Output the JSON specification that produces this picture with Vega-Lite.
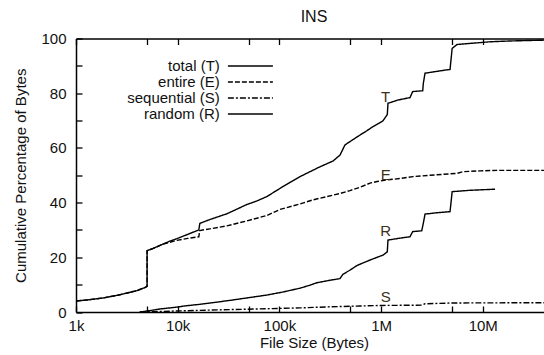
{
  "$schema": "https://vega.github.io/schema/vega-lite/v6.json",
  "width": 468,
  "height": 273.5,
  "autosize": "none",
  "padding": {"left": 76, "top": 38.5, "right": 0, "bottom": 43},
  "background": "white",
  "config": {
    "view": {"stroke": null},
    "font": "Liberation Sans",
    "axis": {
      "grid": false,
      "ticks": true,
      "domainColor": "black",
      "domainWidth": 1.5,
      "tickColor": "black",
      "tickWidth": 1.3,
      "labelFont": "Liberation Sans",
      "labelFontSize": 15,
      "labelColor": "#111111",
      "titleFont": "Liberation Sans",
      "titleFontSize": 15,
      "titleFontWeight": "normal",
      "titleColor": "#111111"
    }
  },
  "title": {
    "text": "INS",
    "fontSize": 16,
    "fontWeight": "normal",
    "font": "Liberation Sans",
    "color": "#111111",
    "offset": 7,
    "dx": 4
  },
  "datasets": {
    "curves": [
      {"series": "total (T)", "size": 1000, "pct": 4.0},
      {"series": "total (T)", "size": 1364, "pct": 4.5},
      {"series": "total (T)", "size": 1831, "pct": 5.1},
      {"series": "total (T)", "size": 2692, "pct": 6.3},
      {"series": "total (T)", "size": 3958, "pct": 7.8},
      {"series": "total (T)", "size": 4746, "pct": 8.9},
      {"series": "total (T)", "size": 5000, "pct": 9.4},
      {"series": "total (T)", "size": 5000, "pct": 22.4},
      {"series": "total (T)", "size": 5687, "pct": 23.2},
      {"series": "total (T)", "size": 7135, "pct": 24.8},
      {"series": "total (T)", "size": 8360, "pct": 25.9},
      {"series": "total (T)", "size": 9797, "pct": 26.8},
      {"series": "total (T)", "size": 12570, "pct": 28.4},
      {"series": "total (T)", "size": 16130, "pct": 30.0},
      {"series": "total (T)", "size": 16500, "pct": 32.4},
      {"series": "total (T)", "size": 20700, "pct": 33.8},
      {"series": "total (T)", "size": 24810, "pct": 34.8},
      {"series": "total (T)", "size": 30430, "pct": 35.9},
      {"series": "total (T)", "size": 38160, "pct": 37.6},
      {"series": "total (T)", "size": 47860, "pct": 39.3},
      {"series": "total (T)", "size": 60050, "pct": 40.6},
      {"series": "total (T)", "size": 75340, "pct": 42.2},
      {"series": "total (T)", "size": 101400, "pct": 45.2},
      {"series": "total (T)", "size": 127200, "pct": 47.4},
      {"series": "total (T)", "size": 159500, "pct": 49.5},
      {"series": "total (T)", "size": 200100, "pct": 51.3},
      {"series": "total (T)", "size": 250800, "pct": 53.1},
      {"series": "total (T)", "size": 336800, "pct": 55.2},
      {"series": "total (T)", "size": 394700, "pct": 57.4},
      {"series": "total (T)", "size": 441900, "pct": 61.1},
      {"series": "total (T)", "size": 517800, "pct": 62.8},
      {"series": "total (T)", "size": 620500, "pct": 64.7},
      {"series": "total (T)", "size": 727000, "pct": 66.3},
      {"series": "total (T)", "size": 832800, "pct": 67.8},
      {"series": "total (T)", "size": 1044000, "pct": 69.9},
      {"series": "total (T)", "size": 1151000, "pct": 72.2},
      {"series": "total (T)", "size": 1169000, "pct": 76.3},
      {"series": "total (T)", "size": 1467000, "pct": 77.5},
      {"series": "total (T)", "size": 1925000, "pct": 78.4},
      {"series": "total (T)", "size": 2046000, "pct": 80.6},
      {"series": "total (T)", "size": 2567000, "pct": 80.9},
      {"series": "total (T)", "size": 2602000, "pct": 83.6},
      {"series": "total (T)", "size": 2704000, "pct": 87.3},
      {"series": "total (T)", "size": 3550000, "pct": 88.0},
      {"series": "total (T)", "size": 4766000, "pct": 88.7},
      {"series": "total (T)", "size": 5000000, "pct": 96.4},
      {"series": "total (T)", "size": 5585000, "pct": 97.8},
      {"series": "total (T)", "size": 7499000, "pct": 98.2},
      {"series": "total (T)", "size": 11800000, "pct": 98.8},
      {"series": "total (T)", "size": 18570000, "pct": 99.1},
      {"series": "total (T)", "size": 40000000, "pct": 99.4},

      {"series": "entire (E)", "size": 1000, "pct": 4.0},
      {"series": "entire (E)", "size": 1364, "pct": 4.5},
      {"series": "entire (E)", "size": 1831, "pct": 5.1},
      {"series": "entire (E)", "size": 2692, "pct": 6.3},
      {"series": "entire (E)", "size": 3958, "pct": 7.8},
      {"series": "entire (E)", "size": 4746, "pct": 8.9},
      {"series": "entire (E)", "size": 5000, "pct": 9.4},
      {"series": "entire (E)", "size": 5000, "pct": 22.4},
      {"series": "entire (E)", "size": 5687, "pct": 23.2},
      {"series": "entire (E)", "size": 7135, "pct": 24.8},
      {"series": "entire (E)", "size": 8360, "pct": 25.5},
      {"series": "entire (E)", "size": 9797, "pct": 26.2},
      {"series": "entire (E)", "size": 12570, "pct": 26.9},
      {"series": "entire (E)", "size": 16130, "pct": 27.5},
      {"series": "entire (E)", "size": 16500, "pct": 29.8},
      {"series": "entire (E)", "size": 20700, "pct": 30.4},
      {"series": "entire (E)", "size": 30430, "pct": 31.5},
      {"series": "entire (E)", "size": 47860, "pct": 33.3},
      {"series": "entire (E)", "size": 75340, "pct": 35.3},
      {"series": "entire (E)", "size": 101400, "pct": 37.5},
      {"series": "entire (E)", "size": 159500, "pct": 39.5},
      {"series": "entire (E)", "size": 213700, "pct": 41.0},
      {"series": "entire (E)", "size": 293000, "pct": 42.2},
      {"series": "entire (E)", "size": 393900, "pct": 43.3},
      {"series": "entire (E)", "size": 494200, "pct": 44.4},
      {"series": "entire (E)", "size": 620500, "pct": 45.6},
      {"series": "entire (E)", "size": 777500, "pct": 47.1},
      {"series": "entire (E)", "size": 911100, "pct": 47.7},
      {"series": "entire (E)", "size": 1143000, "pct": 48.3},
      {"series": "entire (E)", "size": 1535000, "pct": 48.8},
      {"series": "entire (E)", "size": 2061000, "pct": 49.5},
      {"series": "entire (E)", "size": 3029000, "pct": 50.0},
      {"series": "entire (E)", "size": 5585000, "pct": 50.7},
      {"series": "entire (E)", "size": 6400000, "pct": 51.3},
      {"series": "entire (E)", "size": 9406000, "pct": 51.6},
      {"series": "entire (E)", "size": 13830000, "pct": 51.8},
      {"series": "entire (E)", "size": 40000000, "pct": 51.8},

      {"series": "sequential (S)", "size": 4236, "pct": 0.0},
      {"series": "sequential (S)", "size": 8360, "pct": 0.3},
      {"series": "sequential (S)", "size": 16500, "pct": 0.6},
      {"series": "sequential (S)", "size": 34860, "pct": 0.9},
      {"series": "sequential (S)", "size": 75340, "pct": 1.2},
      {"series": "sequential (S)", "size": 159200, "pct": 1.5},
      {"series": "sequential (S)", "size": 314100, "pct": 1.9},
      {"series": "sequential (S)", "size": 619900, "pct": 2.2},
      {"series": "sequential (S)", "size": 1044000, "pct": 2.4},
      {"series": "sequential (S)", "size": 2509000, "pct": 2.5},
      {"series": "sequential (S)", "size": 2704000, "pct": 3.0},
      {"series": "sequential (S)", "size": 5000000, "pct": 3.3},
      {"series": "sequential (S)", "size": 40000000, "pct": 3.4},

      {"series": "random (R)", "size": 4236, "pct": 0.0},
      {"series": "random (R)", "size": 5315, "pct": 0.5},
      {"series": "random (R)", "size": 6665, "pct": 1.1},
      {"series": "random (R)", "size": 9363, "pct": 1.7},
      {"series": "random (R)", "size": 12290, "pct": 2.3},
      {"series": "random (R)", "size": 16500, "pct": 2.8},
      {"series": "random (R)", "size": 23190, "pct": 3.5},
      {"series": "random (R)", "size": 34860, "pct": 4.4},
      {"series": "random (R)", "size": 51240, "pct": 5.3},
      {"series": "random (R)", "size": 75340, "pct": 6.2},
      {"series": "random (R)", "size": 108250, "pct": 7.3},
      {"series": "random (R)", "size": 159200, "pct": 8.7},
      {"series": "random (R)", "size": 199700, "pct": 9.8},
      {"series": "random (R)", "size": 233900, "pct": 10.7},
      {"series": "random (R)", "size": 314100, "pct": 11.6},
      {"series": "random (R)", "size": 393900, "pct": 12.2},
      {"series": "random (R)", "size": 421700, "pct": 13.8},
      {"series": "random (R)", "size": 494200, "pct": 15.3},
      {"series": "random (R)", "size": 579100, "pct": 17.0},
      {"series": "random (R)", "size": 777500, "pct": 19.0},
      {"series": "random (R)", "size": 1044000, "pct": 20.8},
      {"series": "random (R)", "size": 1151000, "pct": 22.0},
      {"series": "random (R)", "size": 1169000, "pct": 26.3},
      {"series": "random (R)", "size": 1535000, "pct": 27.0},
      {"series": "random (R)", "size": 1925000, "pct": 27.5},
      {"series": "random (R)", "size": 2046000, "pct": 29.4},
      {"series": "random (R)", "size": 2509000, "pct": 29.7},
      {"series": "random (R)", "size": 2602000, "pct": 32.4},
      {"series": "random (R)", "size": 2704000, "pct": 35.8},
      {"series": "random (R)", "size": 3550000, "pct": 36.3},
      {"series": "random (R)", "size": 4766000, "pct": 36.7},
      {"series": "random (R)", "size": 5000000, "pct": 44.0},
      {"series": "random (R)", "size": 7499000, "pct": 44.5},
      {"series": "random (R)", "size": 13210000, "pct": 44.9}
    ],
    "letters": [
      {"letter": "T", "size": 1110000, "pct": 78.6},
      {"letter": "E", "size": 1110000, "pct": 50.1},
      {"letter": "R", "size": 1110000, "pct": 29.6},
      {"letter": "S", "size": 1110000, "pct": 5.5}
    ]
  },
  "layer": [
    {
      "data": {"name": "curves"},
      "mark": {"type": "line", "strokeWidth": 1.4, "color": "black"},
      "encoding": {
        "x": {
          "field": "size",
          "type": "quantitative",
          "scale": {"type": "log", "domain": [1000, 40000000], "nice": false},
          "axis": {
            "orient": "top",
            "offset": -273.5,
            "values": [1000, 5000, 10000, 50000, 100000, 500000, 1000000, 5000000, 10000000],
            "labelExpr": "datum.value == 1000 ? '1k' : datum.value == 10000 ? '10k' : datum.value == 100000 ? '100k' : datum.value == 1000000 ? '1M' : datum.value == 10000000 ? '10M' : ''",
            "tickSize": 6,
            "labelPadding": -12,
            "labelBaseline": "top",
            "labelFlush": false,
            "labelOverlap": false,
            "title": "File Size (Bytes)",
            "titleX": 238,
            "titleY": 30.5,
            "titleAngle": 0,
            "titleBaseline": "middle",
            "titleAlign": "center"
          }
        },
        "y": {
          "field": "pct",
          "type": "quantitative",
          "scale": {"domain": [0, 100], "nice": false},
          "axis": {
            "orient": "right",
            "offset": -468,
            "values": [0, 10, 20, 30, 40, 50, 60, 70, 80, 90, 100],
            "labelExpr": "datum.value % 20 === 0 ? datum.label : ''",
            "tickSize": 6,
            "labelPadding": -16,
            "labelAlign": "right",
            "labelBaseline": "middle",
            "labelOverlap": false,
            "labelFlush": false,
            "title": "Cumulative Percentage of Bytes",
            "titleX": -56,
            "titleY": 136.75,
            "titleAngle": -90,
            "titleBaseline": "middle",
            "titleAlign": "center"
          }
        },
        "strokeDash": {
          "field": "series",
          "type": "nominal",
          "scale": {
            "domain": ["total (T)", "entire (E)", "sequential (S)", "random (R)"],
            "range": [[1, 0], [5, 2], [6, 2, 2, 2], [1, 0]]
          },
          "legend": {
            "orient": "none",
            "legendX": 166.9,
            "legendY": 20,
            "title": null,
            "padding": 0,
            "symbolType": "M-4,0H4",
            "symbolSize": 126.5,
            "symbolStrokeWidth": 1.4,
            "symbolStrokeColor": "black",
            "labelAlign": "right",
            "labelOffset": -38.1,
            "labelFont": "Liberation Sans",
            "labelFontSize": 15,
            "labelColor": "#111111",
            "labelLimit": 300,
            "rowPadding": -3
          }
        },
        "order": {"value": null}
      }
    },
    {
      "data": {"name": "letters"},
      "mark": {"type": "text", "fontSize": 15, "font": "Liberation Sans", "color": "#3d3016", "align": "center", "baseline": "middle"},
      "encoding": {
        "x": {
          "field": "size",
          "type": "quantitative",
          "scale": {"type": "log", "domain": [1000, 40000000], "nice": false},
          "axis": {
            "orient": "bottom",
            "offset": -273.5,
            "values": [1000, 5000, 10000, 50000, 100000, 500000, 1000000, 5000000, 10000000],
            "tickSize": 6,
            "labels": false,
            "title": null
          }
        },
        "y": {"field": "pct", "type": "quantitative", "axis": null},
        "text": {"field": "letter"}
      }
    }
  ],
  "resolve": {"axis": {"x": "independent", "y": "independent"}}
}
